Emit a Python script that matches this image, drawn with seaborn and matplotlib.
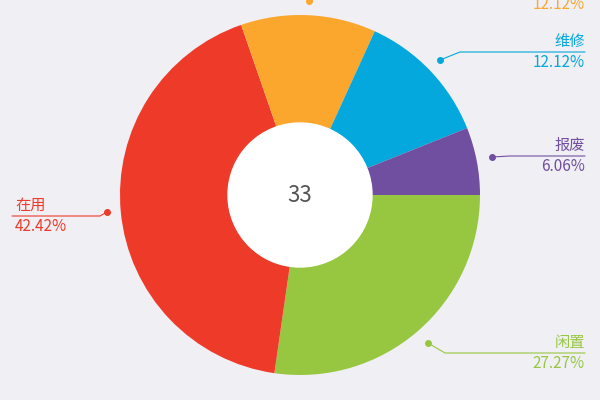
import matplotlib
matplotlib.use("Agg")
import matplotlib.pyplot as plt
import seaborn as sns

labels = ["闲置", "在用", "借用", "维修", "报废"]
counts = [9, 14, 4, 4, 2]
colors = ["#97c740", "#ee3a28", "#fba72e", "#04a8dc", "#714fa0"]
total = sum(counts)

sns.set_style("white")
plt.rcParams['font.family'] = ['Noto Sans CJK SC', 'DejaVu Sans']

bg = "#efeff4"
fig = plt.figure(figsize=(6, 4), dpi=100, facecolor=bg)
ax = fig.add_axes([120 / 600, 25 / 400, 360 / 600, 360 / 400])
ax.set_facecolor(bg)
ax.pie(counts, colors=colors, startangle=0, counterclock=False, radius=1,
       wedgeprops=dict(width=0.6, linewidth=0))
ax.add_patch(plt.Circle((0, 0), 0.4, color="white", zorder=3))
ax.text(0, 0, str(total), ha="center", va="center", fontsize=16, color="#555555", zorder=4)
ax.set_xlim(-1, 1)
ax.set_ylim(-1, 1)
ax.axis("off")


def P(px, py):
    return px / 600, 1 - py / 400


# label layout in figure pixels: dot, elbow, line end, text x, align
layout = {
    "闲置": ((428, 343), (445, 353), (585, 353), 585, "right"),
    "在用": ((107, 212), (100, 216), (12, 216), 15, "left"),
    "借用": ((309, 1), (330, -6), (585, -6), 585, "right"),
    "维修": ((440, 60), (460, 52), (585, 52), 585, "right"),
    "报废": ((492, 157), (510, 156), (585, 156), 585, "right"),
}
for lab, c, col in zip(labels, counts, colors):
    dot, elbow, end, tx, ha = layout[lab]
    xs = [P(*dot)[0], P(*elbow)[0], P(*end)[0]]
    ys = [P(*dot)[1], P(*elbow)[1], P(*end)[1]]
    fig.add_artist(plt.Line2D(xs, ys, color=col, lw=0.8, transform=fig.transFigure))
    fig.add_artist(plt.Line2D([xs[0]], [ys[0]], marker="o", ms=4, color=col,
                              transform=fig.transFigure))
    fig.text(*P(tx, elbow[1] - 2), lab, color=col, ha=ha, va="bottom", fontsize=11)
    fig.text(*P(tx, elbow[1] + 2), f"{c / total * 100:.2f}%", color=col, ha=ha,
             va="top", fontsize=11)

fig.savefig("out.png", dpi=100, facecolor=bg)
